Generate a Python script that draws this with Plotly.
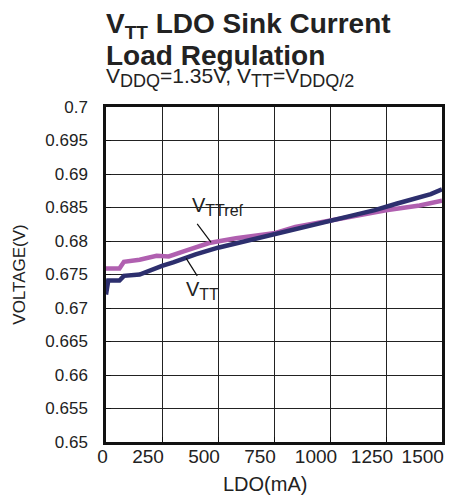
import plotly.graph_objects as go

# Data
vtt_x = [0, 10, 60, 80, 150, 200, 250, 300, 400, 500, 600, 700, 800, 900, 1000, 1100, 1200, 1300, 1400, 1450, 1500]
vtt_y = [0.6720, 0.6741, 0.6741, 0.6748, 0.6750, 0.6757, 0.6763, 0.6768, 0.6780, 0.6790, 0.6798, 0.6806,
         0.6815, 0.6822, 0.6830, 0.6838, 0.6846, 0.6856, 0.6866, 0.6870, 0.6877]
ref_x = [0, 60, 80, 150, 226, 280, 350, 460, 580, 757, 845, 1000, 1150, 1250, 1400, 1500]
ref_y = [0.6759, 0.6759, 0.6769, 0.6772, 0.6778, 0.6777, 0.6785, 0.6797, 0.6804, 0.6812, 0.6821,
         0.6831, 0.6840, 0.6846, 0.6853, 0.6860]

x_ticks = [0, 250, 500, 750, 1000, 1250, 1500]
x_tick_labels = ["\u00a0\u00a0\u00a0\u00a00", "250", "500", "750", "1000", "1250", "1500\u00a0\u00a0"]
y_ticks = [0.65, 0.655, 0.66, 0.665, 0.67, 0.675, 0.68, 0.685, 0.69, 0.695, 0.7]
y_tick_labels = ["0.65", "0.655", "0.66", "0.665", "0.67", "0.675", "0.68", "0.685", "0.69", "0.695", "0.7"]

FONT = "Liberation Sans, Arial, sans-serif"
NAVY = "#2d2f6e"
PINK = "#b060b0"
INK = "#222222"

fig = go.Figure()
fig.add_trace(go.Scatter(x=ref_x, y=ref_y, mode="lines", line=dict(color=PINK, width=4.5), name="VTTref"))
fig.add_trace(go.Scatter(x=vtt_x, y=vtt_y, mode="lines", line=dict(color=NAVY, width=4.5), name="VTT"))

axis_common = dict(showgrid=True, gridcolor="#222222", gridwidth=1, showline=True, linecolor="#111111",
                   linewidth=2.5, mirror=True, ticks="inside", ticklen=5, tickcolor="#111111",
                   zeroline=False, automargin=False)

fig.update_xaxes(range=[0, 1500], tickvals=x_ticks, ticktext=x_tick_labels,
                 tickfont=dict(family=FONT, size=19, color=INK),
                 ticklabelshift=-14, ticklabelstandoff=-5, ticklabeloverflow="allow",
                 **axis_common)
fig.update_yaxes(range=[0.65, 0.7], tickvals=y_ticks, ticktext=y_tick_labels,
                 tickfont=dict(family=FONT, size=17, color=INK), ticklabelstandoff=12,
                 title=dict(text="VOLTAGE(V)", font=dict(family=FONT, size=17, color=INK), standoff=16),
                 **axis_common)

SUB = '<sub><span style="font-size:18px">{}</span></sub>'
subtitle = ("V" + SUB.format("DDQ") + "=1.35V, V" + SUB.format("TT") + "=V" + SUB.format("DDQ/2"))

annotations = [
    dict(x=0, y=1, xref="paper", yref="paper", xanchor="left", yanchor="bottom", yshift=62, xshift=-2,
         showarrow=False, align="left",
         text='<b>V<sub><span style="font-size:19px">TT</span></sub> LDO Sink Current</b>',
         font=dict(family=FONT, size=28, color=INK)),
    dict(x=0, y=1, xref="paper", yref="paper", xanchor="left", yanchor="bottom", yshift=34, xshift=-2,
         showarrow=False, align="left", text="<b>Load Regulation</b>",
         font=dict(family=FONT, size=28, color=INK)),
    dict(x=0, y=1, xref="paper", yref="paper", xanchor="left", yanchor="bottom", yshift=14, xshift=-2,
         showarrow=False, align="left", text=subtitle,
         font=dict(family=FONT, size=21, color=INK)),
    # x-axis title
    dict(x=0.5, y=0, xref="paper", yref="paper", xanchor="center", yanchor="top", xshift=-9, yshift=-29,
         showarrow=False, text="LDO(mA)", font=dict(family=FONT, size=20, color=INK)),
    # leader lines
    dict(x=469, y=0.6798, xref="x", yref="y", ax=-15, ay=-20, text="", showarrow=True, arrowhead=0,
         arrowwidth=1.2, arrowcolor="#111111"),
    dict(x=358, y=0.6774, xref="x", yref="y", ax=12, ay=19, text="", showarrow=True, arrowhead=0,
         arrowwidth=1.2, arrowcolor="#111111"),
    # labels
    dict(x=500, y=0.6852, xref="x", yref="y", text='V<sub><span style="font-size:16px">TTref</span></sub>',
         showarrow=False, font=dict(family=FONT, size=20, color=INK)),
    dict(x=430, y=0.6726, xref="x", yref="y", text='V<sub><span style="font-size:16px">TT</span></sub>',
         showarrow=False, font=dict(family=FONT, size=20, color=INK)),
]

# The page body adds an 8px offset, so the figure is 8px smaller and margins are reduced by 8px.
fig.update_layout(width=446, height=488, margin=dict(l=98, r=12, t=99, b=54),
                  paper_bgcolor="white", plot_bgcolor="white", showlegend=False,
                  annotations=annotations, font=dict(family=FONT))

fig.write_html("out.html")
